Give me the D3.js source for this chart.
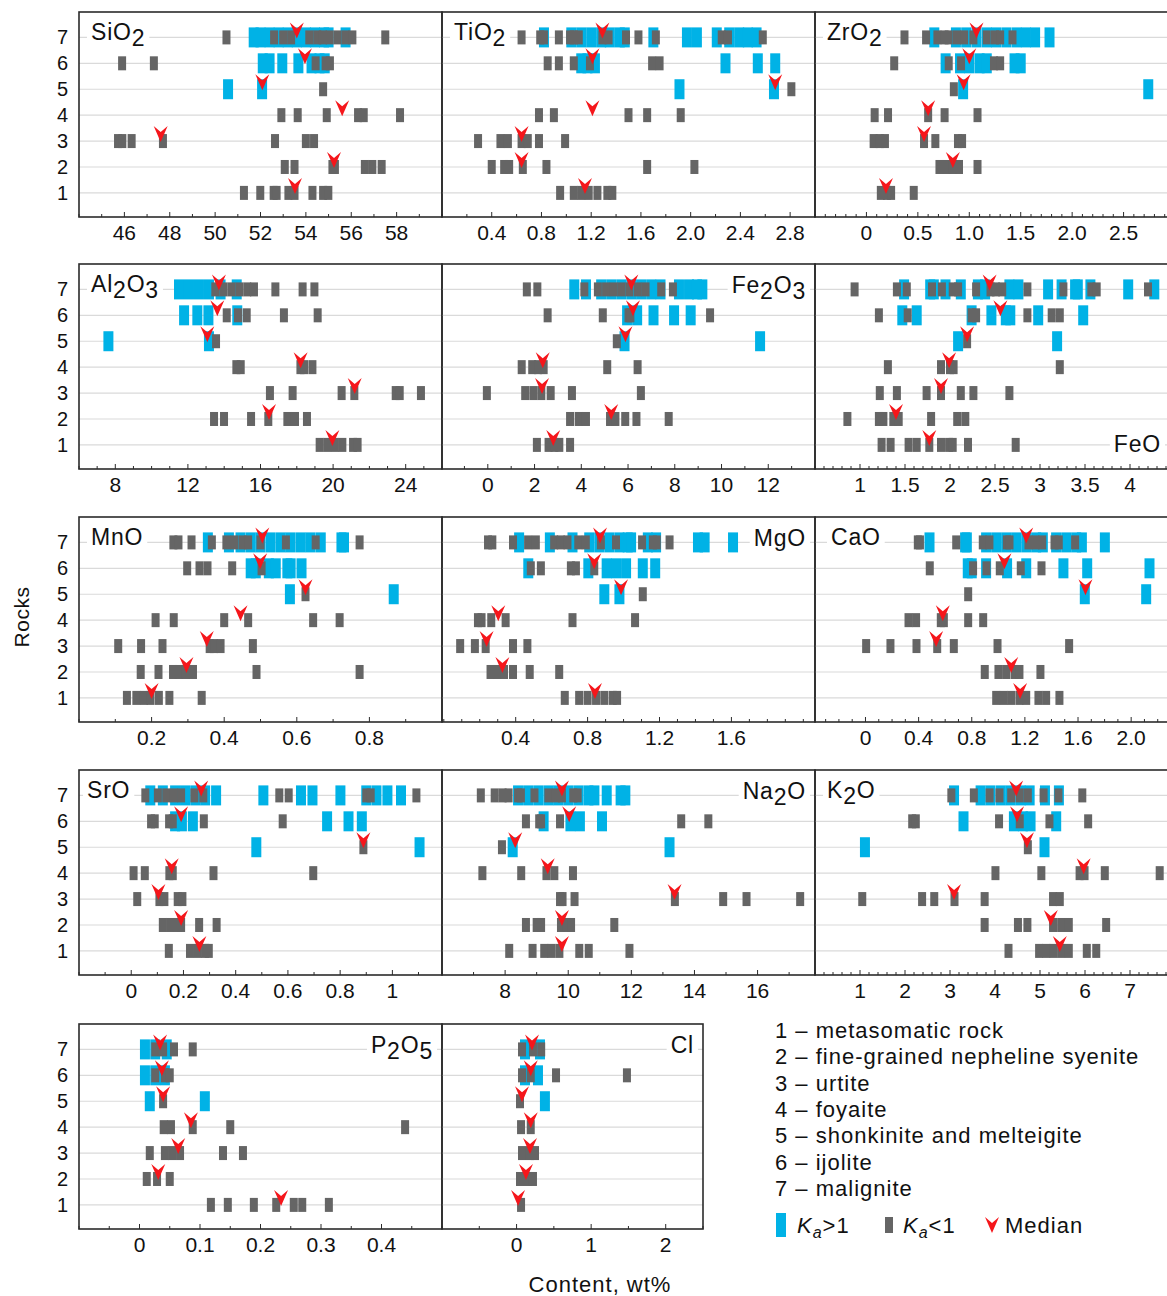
<!DOCTYPE html>
<html>
<head>
<meta charset="utf-8">
<script src="https://cdn.jsdelivr.net/npm/d3@7"></script>
<style>
  body { margin: 0; background: #fff; }
  svg { display: block; }
  text { font-family: "Liberation Sans", Arial, Helvetica, sans-serif; fill: #111; }
</style>
</head>
<body>
<svg id="chart" width="1167" height="1296"></svg>
<script>
// Rock types, numbered 1..7 on the vertical axis
const rockIds = [1, 2, 3, 4, 5, 6, 7];
const rockNames = ["metasomatic rock", "fine-grained nepheline syenite", "urtite", "foyaite",
                   "shonkinite and melteigite", "ijolite", "malignite"];

// Analyses per rock type (index 0 = rock 1 ... index 6 = rock 7), wt%
// "Low" = Ka<1 (grey), "High" = Ka>1 (blue), "Median" = median per rock
const sio2Low = [
  [51.27, 51.99, 52.58, 52.71, 53.23, 53.5, 54.29, 54.76, 54.99],
  [53.07, 53.5, 55.17, 55.28, 56.6, 56.93, 57.34],
  [45.72, 45.91, 46.32, 47.7, 52.64, 54.0, 54.36],
  [52.92, 53.64, 54.92, 56.3, 56.55, 58.15],
  [54.76],
  [45.9, 47.3, 54.43, 54.87, 55.06],
  [50.5, 52.6, 53.0, 53.35, 54.15, 54.5, 54.75, 55.05, 55.4, 55.75, 56.05, 57.5]
];
const sio2High = [[], [], [], [], [50.57, 52.07],
  [52.1, 52.4, 52.96, 53.67, 54.25, 54.6, 54.83],
  [51.7, 52.0, 52.4, 52.8, 53.2, 53.6, 54.0, 54.4, 54.8, 55.0, 55.75]];
const sio2Median = [53.52, 55.24, 47.6, 55.6, 52.08, 53.96, 53.6];
const sio2Ticks = ["46", "48", "50", "52", "54", "56", "58"];

const tio2Low = [
  [0.95, 1.06, 1.12, 1.18, 1.25, 1.33, 1.37],
  [0.40, 0.50, 0.54, 0.65, 0.84, 1.65, 2.03],
  [0.29, 0.47, 0.53, 0.64, 0.69, 0.78, 0.99],
  [0.78, 0.90, 1.50, 1.65, 1.92],
  [2.81],
  [0.85, 0.94, 1.06, 1.19, 1.69, 1.75],
  [0.64, 0.79, 0.82, 0.94, 1.03, 1.06, 1.10, 1.29, 1.34, 1.48, 1.58, 1.72, 2.25, 2.30, 2.58]
];
const tio2High = [[], [], [], [], [1.91, 2.67],
  [1.12, 1.17, 1.23, 2.28, 2.54, 2.68],
  [0.82, 1.04, 1.12, 1.20, 1.28, 1.35, 1.43, 1.47, 1.70, 1.97, 2.05, 2.21, 2.31, 2.39, 2.46, 2.53]];
const tio2Median = [1.15, 0.64, 0.64, 1.21, 2.68, 1.21, 1.29];
const tio2Ticks = ["0.4", "0.8", "1.2", "1.6", "2.0", "2.4", "2.8"];

const zro2Low = [
  [0.14, 0.20, 0.24, 0.46],
  [0.71, 0.78, 0.84, 0.90, 1.08],
  [0.07, 0.13, 0.18, 0.56, 0.67, 0.89, 0.93],
  [0.08, 0.21, 0.60, 0.76, 1.08],
  [0.85],
  [0.27, 0.80, 0.92, 1.24, 1.30],
  [0.37, 0.58, 0.69, 0.76, 0.80, 0.88, 0.95, 1.04, 1.17, 1.25, 1.30, 1.42]
];
const zro2High = [[], [], [], [], [0.94, 2.74],
  [0.77, 0.91, 1.0, 1.1, 1.17, 1.44, 1.50],
  [0.66, 0.87, 0.97, 1.07, 1.17, 1.26, 1.36, 1.46, 1.55, 1.64, 1.78]];
const zro2Median = [0.19, 0.84, 0.56, 0.60, 0.945, 1.0, 1.07];
const zro2Ticks = ["0", "0.5", "1.0", "1.5", "2.0", "2.5"];

const al2o3Low = [
  [19.26, 19.68, 20.1, 20.51, 21.1, 21.35],
  [13.44, 13.99, 15.48, 16.43, 17.48, 17.9, 18.56],
  [16.52, 17.77, 20.47, 21.17, 23.45, 23.67, 24.84],
  [14.67, 14.91, 18.2, 18.4, 18.86],
  [13.55],
  [14.14, 14.76, 15.24, 17.29, 19.15],
  [13.51, 13.95, 14.39, 14.83, 15.27, 15.64, 16.82, 18.32, 18.97]
];
const al2o3High = [[], [], [], [], [7.62, 13.16],
  [11.79, 12.52, 13.13, 14.72],
  [11.51, 12.06, 12.61, 13.16, 13.8, 14.69]];
const al2o3Median = [19.96, 16.47, 21.19, 18.21, 13.07, 13.62, 13.71];
const al2o3Ticks = ["8", "12", "16", "20", "24"];

const fe2o3Low = [
  [2.1, 2.6, 2.85, 3.06, 3.52],
  [3.52, 3.89, 4.2, 5.23, 5.46, 5.88, 6.36, 7.74],
  [-0.04, 1.6, 1.95, 2.29, 2.69, 3.6, 6.55],
  [1.45, 1.9, 2.15, 2.39, 5.11, 6.41],
  [5.52],
  [2.56, 4.92, 6.02, 6.1, 9.51],
  [1.67, 2.12, 4.13, 4.71, 5.06, 5.39, 5.72, 6.06, 6.42, 6.75, 7.42, 7.92]
];
const fe2o3High = [[], [], [], [], [5.85, 11.65],
  [5.96, 6.39, 7.09, 7.97, 8.68],
  [3.70, 4.2, 4.85, 5.28, 5.71, 6.14, 6.56, 6.99, 7.39, 8.18, 8.61, 8.95, 9.18]];
const fe2o3Median = [2.8, 5.28, 2.32, 2.35, 5.89, 6.21, 6.14];
const fe2o3Ticks = ["0", "2", "4", "6", "8", "10", "12"];

const feoLow = [
  [1.24, 1.34, 1.54, 1.63, 1.77, 1.9, 1.99, 2.03, 2.2, 2.73],
  [0.86, 1.21, 1.26, 1.37, 1.43, 1.79, 2.08, 2.17],
  [1.22, 1.41, 1.74, 1.9, 2.12, 2.26, 2.66],
  [1.31, 1.9, 2.0, 2.04, 3.22],
  [2.19],
  [1.21, 1.53, 2.24, 2.29, 2.86, 3.13, 3.22],
  [0.94, 1.41, 1.52, 1.8, 1.91, 2.03, 2.09, 2.29, 2.45, 2.51, 2.58, 2.86, 3.26, 3.57, 3.63, 4.2]
];
const feoHigh = [[], [], [], [], [2.09, 3.19],
  [1.47, 1.63, 2.24, 2.46, 2.62, 2.67, 2.98, 3.48],
  [1.49, 1.78, 1.82, 1.95, 2.12, 2.31, 2.39, 2.66, 2.76, 3.09, 3.24, 3.39, 3.42, 3.56, 3.98, 4.27]];
const feoMedian = [1.77, 1.40, 1.9, 1.99, 2.19, 2.56, 2.44];
const feoTicks = ["1", "1.5", "2", "2.5", "3", "3.5", "4"];

const mnoLow = [
  [0.132, 0.158, 0.179, 0.197, 0.22, 0.249, 0.338],
  [0.17, 0.219, 0.259, 0.275, 0.294, 0.314, 0.489, 0.773],
  [0.108, 0.171, 0.23, 0.36, 0.372, 0.39, 0.479],
  [0.211, 0.261, 0.4, 0.466, 0.645, 0.718],
  [0.624],
  [0.298, 0.332, 0.354, 0.422, 0.503],
  [0.26, 0.274, 0.31, 0.366, 0.406, 0.427, 0.45, 0.466, 0.5, 0.57, 0.652, 0.773]
];
const mnoHigh = [[], [], [], [], [0.581, 0.867],
  [0.473, 0.487, 0.523, 0.542, 0.574, 0.583, 0.613],
  [0.355, 0.413, 0.445, 0.473, 0.5, 0.528, 0.556, 0.583, 0.611, 0.638, 0.666, 0.723, 0.73]];
const mnoMedian = [0.2, 0.296, 0.352, 0.445, 0.624, 0.499, 0.505];
const mnoTicks = ["0.2", "0.4", "0.6", "0.8"];

const mgoLow = [
  [0.673, 0.753, 0.8, 0.847, 0.893, 0.94, 0.964],
  [0.26, 0.298, 0.335, 0.385, 0.478, 0.642],
  [0.091, 0.173, 0.233, 0.385, 0.465],
  [0.19, 0.21, 0.264, 0.344, 0.716, 1.064],
  [1.107],
  [0.484, 0.54, 0.707, 0.735, 0.837],
  [0.246, 0.27, 0.385, 0.469, 0.512, 0.614, 0.651, 0.688, 0.748, 0.79, 0.874, 0.958, 1.103, 1.163, 1.185, 1.256]
];
const mgoHigh = [[], [], [], [], [0.893, 0.977],
  [0.47, 0.804, 0.906, 0.958, 1.014, 1.107, 1.176],
  [0.419, 0.59, 0.716, 0.809, 0.865, 0.921, 0.977, 1.023, 1.042, 1.135, 1.181, 1.414, 1.451, 1.609]];
const mgoMedian = [0.841, 0.326, 0.238, 0.303, 0.986, 0.837, 0.869];
const mgoTicks = ["0.4", "0.8", "1.2", "1.6"];

const caoLow = [
  [0.984, 1.041, 1.097, 1.159, 1.21, 1.302, 1.36, 1.46],
  [0.898, 1.001, 1.059, 1.122, 1.159, 1.317],
  [0.005, 0.188, 0.384, 0.54, 0.665, 0.994, 1.533],
  [0.324, 0.381, 0.567, 0.59, 0.773, 0.886],
  [0.773],
  [0.484, 0.81, 0.911, 1.011, 1.169, 1.325],
  [0.394, 0.41, 0.683, 0.883, 0.933, 1.064, 1.084, 1.227, 1.28, 1.33, 1.423, 1.455, 1.578]
];
const caoHigh = [[], [], [], [], [1.651, 2.113],
  [0.77, 0.8, 0.908, 1.066, 1.21, 1.49, 1.669, 2.138],
  [0.482, 0.75, 0.763, 0.908, 0.984, 1.059, 1.134, 1.21, 1.285, 1.335, 1.435, 1.511, 1.586, 1.629, 1.802]];
const caoMedian = [1.164, 1.097, 0.532, 0.582, 1.656, 1.046, 1.21];
const caoTicks = ["0", "0.4", "0.8", "1.2", "1.6", "2.0"];

const sroLow = [
  [0.144, 0.225, 0.255, 0.283, 0.297],
  [0.121, 0.149, 0.178, 0.191, 0.26, 0.327],
  [0.023, 0.108, 0.127, 0.178, 0.196],
  [0.009, 0.052, 0.146, 0.159, 0.315, 0.697],
  [0.889],
  [0.076, 0.09, 0.145, 0.159, 0.278, 0.58],
  [0.054, 0.102, 0.134, 0.163, 0.191, 0.242, 0.276, 0.567, 0.603, 0.9, 0.917, 1.092]
];
const sroHigh = [[], [], [], [], [0.479, 1.104],
  [0.168, 0.194, 0.236, 0.75, 0.832, 0.883],
  [0.073, 0.121, 0.168, 0.206, 0.245, 0.283, 0.325, 0.506, 0.65, 0.694, 0.801, 0.9, 0.939, 0.981, 1.033]];
const sroMedian = [0.261, 0.191, 0.104, 0.155, 0.889, 0.191, 0.268];
const sroTicks = ["0", "0.2", "0.4", "0.6", "0.8", "1"];

const na2oLow = [
  [8.13, 8.87, 9.24, 9.47, 9.72, 10.35, 10.65, 11.94],
  [8.66, 9.0, 9.14, 9.77, 9.95, 10.09, 11.46],
  [9.74, 9.82, 10.2, 13.38, 14.91, 15.65, 17.35],
  [7.28, 8.51, 9.31, 9.56, 10.15],
  [7.9],
  [8.66, 9.08, 9.14, 9.74, 13.58, 14.44],
  [7.23, 7.67, 7.92, 8.11, 8.41, 8.5, 8.93, 9.37, 9.61, 9.8, 10.16, 10.3]
];
const na2oHigh = [[], [], [], [], [8.24, 13.21],
  [9.22, 10.07, 10.37, 11.07],
  [8.41, 8.73, 9.05, 9.37, 9.68, 10.0, 10.32, 10.64, 10.83, 11.22, 11.66, 11.81]];
const na2oMedian = [9.8, 9.8, 13.37, 9.35, 8.32, 10.03, 9.8];
const na2oTicks = ["8", "10", "12", "14", "16"];

const k2oLow = [
  [4.3, 4.98, 5.14, 5.3, 5.47, 5.64, 6.04, 6.25],
  [3.77, 4.51, 4.72, 5.29, 5.47, 5.64, 6.47],
  [1.05, 2.38, 2.65, 3.1, 3.77, 5.29, 5.44],
  [4.01, 5.03, 5.88, 5.99, 6.44, 7.66],
  [4.73],
  [2.16, 2.24, 4.09, 4.55, 5.21, 6.07],
  [3.03, 3.53, 3.88, 4.1, 4.36, 4.55, 4.73, 5.08, 5.41, 5.94]
];
const k2oHigh = [[], [], [], [], [1.11, 5.1],
  [3.3, 4.42, 4.62, 4.79, 5.36],
  [3.09, 3.68, 3.9, 4.13, 4.35, 4.57, 4.77, 5.11, 5.42]];
const k2oMedian = [5.44, 5.24, 3.09, 5.97, 4.71, 4.49, 4.47];
const k2oTicks = ["1", "2", "3", "4", "5", "6", "7"];

const p2o5Low = [
  [0.118, 0.146, 0.189, 0.226, 0.255, 0.269, 0.313],
  [0.012, 0.029, 0.05],
  [0.017, 0.042, 0.054, 0.067, 0.138, 0.171],
  [0.04, 0.052, 0.088, 0.15, 0.439],
  [0.039],
  [0.026, 0.042, 0.05],
  [0.026, 0.039, 0.057, 0.088]
];
const p2o5High = [[], [], [], [], [0.017, 0.108],
  [0.009, 0.026, 0.042],
  [0.009, 0.026, 0.045]];
const p2o5Median = [0.234, 0.031, 0.064, 0.085, 0.039, 0.037, 0.034];
const p2o5Ticks = ["0", "0.1", "0.2", "0.3", "0.4"];

const clLow = [
  [0.06],
  [0.046, 0.153, 0.22],
  [0.073, 0.18, 0.247],
  [0.06, 0.19],
  [0.046],
  [0.073, 0.19, 0.529, 1.48],
  [0.073, 0.22, 0.33]
];
const clHigh = [[], [], [], [], [0.38], [0.113, 0.287], [0.113, 0.314]];
const clMedian = [0.02, 0.126, 0.18, 0.19, 0.073, 0.19, 0.207];
const clTicks = ["0", "1", "2"];

// ---------- layout ----------
const W = 1167;
const colLeft = [79, 442, 815];
const colRight = [442, 815, 1175];
const rowTop = [12, 264, 517, 770, 1024];
const panelH = 205;

const GREY = "#656565", BLUE = "#00b2e6", RED = "#f5161b";
const GRID = "#dadada", FRAME = "#2b2b2b";

const panels = [
  { f: "SiO2",  lo: sio2Low,  hi: sio2High,  med: sio2Median,  ticks: sio2Ticks,  row: 0, col: 0, domain: [44, 60],       minor: 1,    label: "tl" },
  { f: "TiO2",  lo: tio2Low,  hi: tio2High,  med: tio2Median,  ticks: tio2Ticks,  row: 0, col: 1, domain: [0, 3],         minor: 0.2,  label: "tl" },
  { f: "ZrO2",  lo: zro2Low,  hi: zro2High,  med: zro2Median,  ticks: zro2Ticks,  row: 0, col: 2, domain: [-0.5, 3],      minor: 0.1,  label: "tl" },
  { f: "Al2O3", lo: al2o3Low, hi: al2o3High, med: al2o3Median, ticks: al2o3Ticks, row: 1, col: 0, domain: [6, 26],        minor: 1,    label: "tl" },
  { f: "Fe2O3", lo: fe2o3Low, hi: fe2o3High, med: fe2o3Median, ticks: fe2o3Ticks, row: 1, col: 1, domain: [-1.96, 14],    minor: 1,    label: "tr" },
  { f: "FeO",   lo: feoLow,   hi: feoHigh,   med: feoMedian,   ticks: feoTicks,   row: 1, col: 2, domain: [0.5, 4.5],     minor: 0.1,  label: "br" },
  { f: "MnO",   lo: mnoLow,   hi: mnoHigh,   med: mnoMedian,   ticks: mnoTicks,   row: 2, col: 0, domain: [0, 1],         minor: 0.1,  label: "tl" },
  { f: "MgO",   lo: mgoLow,   hi: mgoHigh,   med: mgoMedian,   ticks: mgoTicks,   row: 2, col: 1, domain: [-0.01, 2.065], minor: 0.1,  label: "tr" },
  { f: "CaO",   lo: caoLow,   hi: caoHigh,   med: caoMedian,   ticks: caoTicks,   row: 2, col: 2, domain: [-0.38, 2.33],  minor: 0.1,  label: "tl", inset: 16 },
  { f: "SrO",   lo: sroLow,   hi: sroHigh,   med: sroMedian,   ticks: sroTicks,   row: 3, col: 0, domain: [-0.2, 1.19],   minor: 0.1,  label: "tl", inset: 8 },
  { f: "Na2O",  lo: na2oLow,  hi: na2oHigh,  med: na2oMedian,  ticks: na2oTicks,  row: 3, col: 1, domain: [6, 17.82],     minor: 1,    label: "tr" },
  { f: "K2O",   lo: k2oLow,   hi: k2oHigh,   med: k2oMedian,   ticks: k2oTicks,   row: 3, col: 2, domain: [0, 8],         minor: 0.2,  label: "tl" },
  { f: "P2O5",  lo: p2o5Low,  hi: p2o5High,  med: p2o5Median,  ticks: p2o5Ticks,  row: 4, col: 0, domain: [-0.1, 0.5],    minor: 0.05, label: "tr" },
  { f: "Cl",    lo: clLow,    hi: clHigh,    med: clMedian,    ticks: clTicks,    row: 4, col: 1, domain: [-1, 2.5],      minor: 0.5,  label: "tr", right: 703 }
];

const svg = d3.select("#chart");

// Chemical formula with subscript digits
function writeFormula(textSel, s) {
  const parts = s.match(/[A-Za-z]+|\d+/g);
  let prevSub = false;
  parts.forEach(p => {
    const isNum = /^\d+$/.test(p);
    const t = textSel.append("tspan").text(p);
    if (isNum) t.attr("dy", 6);
    else if (prevSub) t.attr("dy", -6);
    prevSub = isNum;
  });
}

const medianPath = "M-7,-16 L0,-10 L7,-16 L0,0 Z";

panels.forEach(p => {
  const x0 = colLeft[p.col];
  const x1 = p.right || colRight[p.col];
  const top = rowTop[p.row];
  const bottom = top + panelH;
  const x = d3.scaleLinear().domain(p.domain).range([x0, x1]);
  const y = d3.scaleLinear().domain([7.98, 0.07]).range([top, bottom]);
  const g = svg.append("g");

  // gridlines at each rock row
  g.selectAll("line.grid").data(rockIds).join("line")
    .attr("x1", x0).attr("x2", x1)
    .attr("y1", d => y(d)).attr("y2", d => y(d))
    .attr("stroke", GRID).attr("stroke-width", 1.2);

  // oxide label with white backing
  const visRight = Math.min(x1, W);
  const lab = g.append("text").style("font-size", "23px").style("letter-spacing", "0.8px");
  if (p.label === "tl") lab.attr("x", x0 + (p.inset || 12)).attr("y", top + 28);
  else if (p.label === "tr") lab.attr("x", visRight - 9).attr("y", top + 29).attr("text-anchor", "end");
  else lab.attr("x", visRight - 6).attr("y", bottom - 17).attr("text-anchor", "end");
  writeFormula(lab, p.f);
  const bb = lab.node().getBBox();
  g.insert("rect", "text").attr("x", bb.x - 4).attr("y", bb.y - 1)
    .attr("width", bb.width + 8).attr("height", bb.height + 2).attr("fill", "#fff");

  // Ka>1 analyses (blue) beneath Ka<1 analyses (grey)
  const hiPts = p.hi.flatMap((vals, i) => vals.map(v => ({ v, r: i + 1 })));
  const loPts = p.lo.flatMap((vals, i) => vals.map(v => ({ v, r: i + 1 })));
  g.selectAll("rect.hi").data(hiPts).join("rect")
    .attr("x", d => x(d.v) - 5).attr("y", d => y(d.r) - 10)
    .attr("width", 10).attr("height", 20).attr("fill", BLUE);
  g.selectAll("rect.lo").data(loPts).join("rect")
    .attr("x", d => x(d.v) - 4).attr("y", d => y(d.r) - 7)
    .attr("width", 8).attr("height", 14).attr("fill", GREY);

  // medians
  g.selectAll("path.med").data(p.med.map((v, i) => ({ v, r: i + 1 }))).join("path")
    .attr("d", medianPath)
    .attr("transform", d => `translate(${x(d.v)},${y(d.r) + 1})`)
    .attr("fill", RED);

  // frame
  g.append("rect").attr("x", x0).attr("y", top).attr("width", x1 - x0).attr("height", panelH)
    .attr("fill", "none").attr("stroke", FRAME).attr("stroke-width", 1.6);

  // ticks (inward) and labels
  const d0 = p.domain[0], d1 = p.domain[1];
  const minorVals = d3.range(Math.ceil(d0 / p.minor - 1e-6), Math.floor(d1 / p.minor + 1e-6) + 1)
    .map(k => +(k * p.minor).toFixed(4));
  const majorVals = p.ticks.map(Number);
  g.selectAll("line.minor").data(minorVals).join("line")
    .attr("x1", d => x(d)).attr("x2", d => x(d))
    .attr("y1", bottom).attr("y2", d => bottom - (majorVals.some(m => Math.abs(m - d) < 1e-6) ? 5 : 3))
    .attr("stroke", FRAME).attr("stroke-width", 1);
  g.selectAll("text.tick").data(p.ticks).join("text")
    .attr("x", d => x(+d)).attr("y", bottom + 23)
    .attr("text-anchor", "middle").style("font-size", "21px")
    .text(d => d);

  // rock numbers on the left column
  if (p.col === 0) {
    g.selectAll("text.rock").data(rockIds).join("text")
      .attr("x", x0 - 11).attr("y", d => y(d) + 7)
      .attr("text-anchor", "end").style("font-size", "20px")
      .text(d => d);
  }
});

// axis titles
svg.append("text").attr("transform", "translate(29,617) rotate(-90)")
  .attr("text-anchor", "middle").style("font-size", "21px").style("letter-spacing", "0.5px").text("Rocks");
svg.append("text").attr("x", 600).attr("y", 1292)
  .attr("text-anchor", "middle").style("font-size", "22px").style("letter-spacing", "1px").text("Content, wt%");

// legend: rock names
const legend = svg.append("g");
legend.selectAll("text.rockname").data(rockNames).join("text")
  .attr("x", 775).attr("y", (d, i) => 1038 + i * 26.3)
  .style("font-size", "22px").style("letter-spacing", "1px")
  .text((d, i) => `${i + 1} – ${d}`);

// legend: symbols
const ly = 1225;
legend.append("rect").attr("x", 776).attr("y", ly - 12).attr("width", 10).attr("height", 24).attr("fill", BLUE);
const t1 = legend.append("text").attr("x", 797).attr("y", ly + 8).style("font-size", "22px").style("letter-spacing", "1px");
t1.append("tspan").text("K").style("font-style", "italic");
t1.append("tspan").text("a").style("font-style", "italic").style("font-size", "16px").attr("dy", 5);
t1.append("tspan").text(">1").attr("dy", -5);
legend.append("rect").attr("x", 885).attr("y", ly - 8).attr("width", 8).attr("height", 16).attr("fill", GREY);
const t2 = legend.append("text").attr("x", 903).attr("y", ly + 8).style("font-size", "22px").style("letter-spacing", "1px");
t2.append("tspan").text("K").style("font-style", "italic");
t2.append("tspan").text("a").style("font-style", "italic").style("font-size", "16px").attr("dy", 5);
t2.append("tspan").text("<1").attr("dy", -5);
legend.append("path").attr("d", medianPath).attr("transform", `translate(992,${ly + 8})`).attr("fill", RED);
legend.append("text").attr("x", 1005).attr("y", ly + 8).style("font-size", "22px").style("letter-spacing", "1px").text("Median");
</script>
</body>
</html>
